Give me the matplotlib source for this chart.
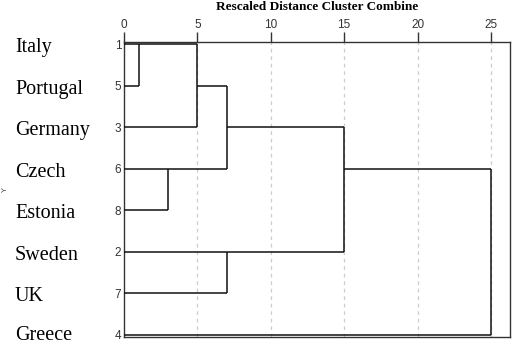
import matplotlib.pyplot as plt

# leaves in display order (top to bottom) and their case numbers
countries = ["Italy", "Portugal", "Germany", "Czech", "Estonia", "Sweden", "UK", "Greece"]
case_ids = [1, 5, 3, 6, 8, 2, 7, 4]

# agglomeration steps: (cluster a, cluster b, rescaled distance)
# ids 0..7 are the leaves above, each step creates id 8, 9, ...
merges = [
    (0, 1, 1.0),
    (8, 2, 5.0),
    (3, 4, 3.0),
    (9, 10, 7.0),
    (5, 6, 7.0),
    (11, 12, 15.0),
    (13, 7, 25.0),
]

x_ticks = [0, 5, 10, 15, 20, 25]

W, H = 513, 346
fig = plt.figure(figsize=(W / 100, H / 100), dpi=100)
ax = fig.add_axes([124 / W, 9 / H, 386 / W, 295 / H])

ax.set_xlim(0, 26.3)
ax.set_ylim(len(countries) - 1 + 0.05, -0.05)

# dashed guide lines
for t in x_ticks[1:]:
    ax.axvline(t, color="#cccccc", lw=0.9, ls=(0, (3, 3)), zorder=1)

line_kw = dict(color="#111111", lw=1.1, zorder=3, solid_capstyle="butt")

# SPSS-style drawing: each cluster sits on one row and starts at its own height
row = {i: float(i) for i in range(len(countries))}
height = {i: 0.0 for i in range(len(countries))}
for k, (a, b, d) in enumerate(merges):
    for c in (a, b):
        ax.plot([height[c], d], [row[c], row[c]], **line_kw)
    ax.plot([d, d], [row[a], row[b]], **line_kw)
    new = len(countries) + k
    row[new] = float(int((row[a] + row[b]) / 2))
    height[new] = d

for s in ax.spines.values():
    s.set_color("#333333")
    s.set_linewidth(1.0)

ax.xaxis.tick_top()
ax.set_xticks(x_ticks)
ax.set_xticklabels([str(t) for t in x_ticks], family="Liberation Sans", fontsize=8.5, color="#333333")
ax.tick_params(axis="x", length=7, width=1.0, color="#333333", pad=1)

ax.set_yticks(range(len(countries)))
ax.set_yticklabels([str(c) for c in case_ids], family="Liberation Sans", fontsize=8.5, color="#333333")
ax.tick_params(axis="y", length=0, pad=2)

# country names sit just below their row line, as in the SPSS output
for i, name in enumerate(countries):
    py = min(44 + i * 41.57 + 8, 340.5)
    fig.text(15 / W, 1 - py / H, name, family="Liberation Serif", fontsize=14.5, ha="left", va="baseline")

fig.text(317 / W, 1 - 7 / H, "Rescaled Distance Cluster Combine", family="Liberation Serif",
         fontsize=9.5, fontweight="bold", ha="center", va="center")
fig.text(5 / W, 1 - 190 / H, "Y", family="Liberation Sans", fontsize=5.5, color="#444444",
         rotation=90, ha="center", va="center")

fig.savefig("out.png", dpi=100)
